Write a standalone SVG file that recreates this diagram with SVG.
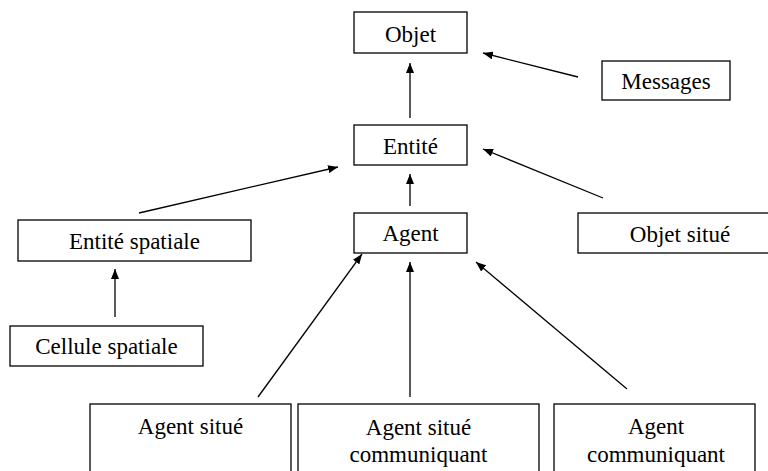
<svg xmlns="http://www.w3.org/2000/svg" width="768" height="471" viewBox="0 0 768 471">
<defs>
<style>
.box{fill:#fff;stroke:#000;stroke-width:1.3}
.lbl{font-family:"Liberation Serif","Times New Roman",serif;font-size:23px;fill:#000;text-anchor:middle}
.edge{stroke:#000;stroke-width:1.3;fill:none;marker-end:url(#arr)}
</style>
<marker id="arr" viewBox="0 0 10 8" refX="10" refY="4" markerWidth="10" markerHeight="8" markerUnits="userSpaceOnUse" orient="auto">
<path d="M0,0 L10,4 L0,8 Z" fill="#000"/>
</marker>
</defs>
<rect width="768" height="471" fill="#fff"/>
<g id="connectors">
<line class="edge" x1="578" y1="77" x2="483" y2="53"/>
<line class="edge" x1="410" y1="118" x2="410" y2="63"/>
<line class="edge" x1="410" y1="206" x2="410" y2="174"/>
<line class="edge" x1="139" y1="213" x2="338" y2="167"/>
<line class="edge" x1="603" y1="198" x2="483" y2="149"/>
<line class="edge" x1="115" y1="317" x2="115" y2="269"/>
<line class="edge" x1="258" y1="397" x2="362" y2="254"/>
<line class="edge" x1="410" y1="397" x2="410" y2="262"/>
<line class="edge" x1="627" y1="389" x2="476" y2="262"/>
</g>
<g id="objet">
<rect class="box" x="354" y="12" width="113" height="41"/>
<text class="lbl" x="410.5" y="42">Objet</text>
</g>
<g id="messages">
<rect class="box" x="602" y="61" width="128" height="39"/>
<text class="lbl" x="666" y="89">Messages</text>
</g>
<g id="entite">
<rect class="box" x="354" y="125" width="113" height="40"/>
<text class="lbl" x="410.5" y="154">Entité</text>
</g>
<g id="agent">
<rect class="box" x="354" y="213" width="113" height="40"/>
<text class="lbl" x="410.5" y="241">Agent</text>
</g>
<g id="entite-spatiale">
<rect class="box" x="18" y="220" width="233" height="41"/>
<text class="lbl" x="134.5" y="249">Entité spatiale</text>
</g>
<g id="objet-situe">
<rect class="box" x="578" y="213" width="210" height="40"/>
<text class="lbl" x="680" y="242">Objet situé</text>
</g>
<g id="cellule-spatiale">
<rect class="box" x="10" y="326" width="193" height="40"/>
<text class="lbl" x="106.5" y="354">Cellule spatiale</text>
</g>
<g id="agent-situe">
<rect class="box" x="90" y="404" width="201" height="80"/>
<text class="lbl" x="190.5" y="434">Agent situé</text>
</g>
<g id="agent-situe-communiquant">
<rect class="box" x="298" y="404" width="241" height="80"/>
<text class="lbl" x="418.5" y="435">Agent situé</text>
<text class="lbl" x="418.5" y="462">communiquant</text>
</g>
<g id="agent-communiquant">
<rect class="box" x="554" y="404" width="201" height="80"/>
<text class="lbl" x="656" y="434">Agent</text>
<text class="lbl" x="656" y="462">communiquant</text>
</g>
</svg>
